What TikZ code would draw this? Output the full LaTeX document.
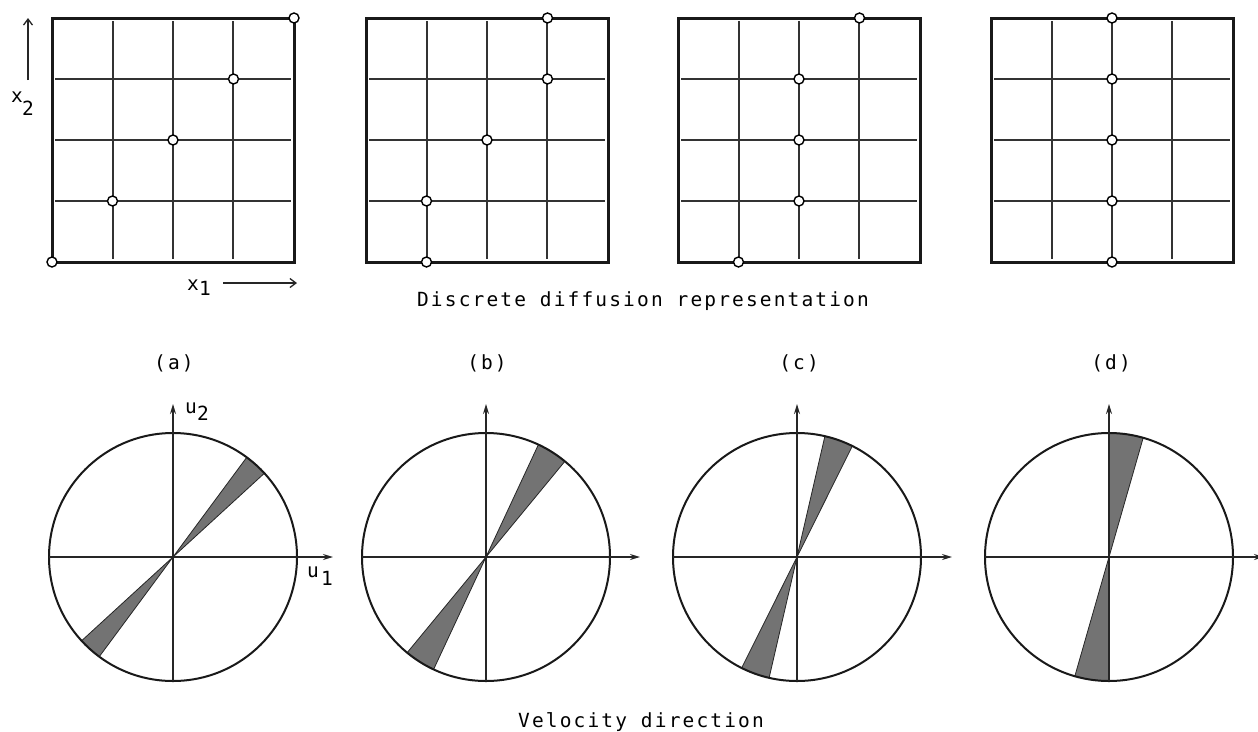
\documentclass[tikz,border=0pt]{standalone}
\usepackage{fontspec}
\newfontfamily\plotfont[LetterSpace=11]{DejaVu Sans Mono}
\newfontfamily\plotchar{DejaVu Sans Mono}
\usetikzlibrary{arrows.meta}
\tikzset{
  frame/.style={line width=3pt, draw=black!90},
  gridl/.style={line width=1.8pt, draw=black!80},
  site/.style={circle, draw=black, fill=white, line width=1.4pt, minimum size=10pt, inner sep=0pt},
  vcirc/.style={line width=2pt, draw=black!90},
  vaxis/.style={line width=1.4pt, draw=black!85, -{Stealth[length=10pt,width=6pt]}},
  wedgefill/.style={fill=black!55, draw=black!85, line width=0.8pt},
  lbl/.style={font=\plotfont\fontsize{19.5}{20}\selectfont, inner sep=0pt, text=black},
  chr/.style={font=\plotchar\fontsize{19.5}{20}\selectfont, inner sep=0pt, text=black},
  xarrow/.style={line width=1.3pt, draw=black!85, -{Straight Barb[length=6pt,width=9pt]}}
}
% #1 left edge, #2 name, #3 list col/row of sites
\newcommand\diffgrid[3]{%
  \begin{scope}[shift={(#1,18)}]
    \foreach \k/\xx/\yy in {1/61/61,2/121/122,3/181/183} {
      \draw[gridl] (\xx,3) -- (\xx,241);
      \draw[gridl] (3,\yy) -- (239,\yy);
    }
    \draw[frame] (0,0) rectangle (242,244);
    \foreach \c/\r in {#3} \node[site] (#2\r) at (\c*60.5,244-\r*61) {};
  \end{scope}
}
% #1 centre x, #2 name, #3 angle1, #4 angle2, #5 end of u1 arrow
\newcommand\velcirc[5]{%
  \coordinate (#2o) at (#1,557);
  \coordinate (#2l) at (#1-124,557);
  \coordinate (#2r) at (#5,557);
  \coordinate (#2b) at (#1,681);
  \coordinate (#2t) at (#1,404);
  \filldraw[wedgefill] (#2o) -- ++(-#3:124) arc[start angle=-#3, end angle=-#4, radius=124] -- cycle;
  \filldraw[wedgefill] (#2o) -- ++(-#3-180:124) arc[start angle=-#3-180, end angle=-#4-180, radius=124] -- cycle;
  \draw[vcirc] (#2o) circle[radius=124];
  \draw[vaxis] (#2l) -- (#2r);
  \draw[vaxis] (#2b) -- (#2t);
}
\begin{document}
\begin{tikzpicture}[x=1pt,y=-1pt]
  \useasboundingbox (0,0) rectangle (1258,731);
  \fill[white] (0,0) rectangle (1258,731);

  % discrete diffusion grids
  \diffgrid{52}{a}{0/0,1/1,2/2,3/3,4/4}
  \diffgrid{366}{b}{1/0,1/1,2/2,3/3,3/4}
  \diffgrid{678}{c}{1/0,2/1,2/2,2/3,3/4}
  \diffgrid{991}{d}{2/0,2/1,2/2,2/3,2/4}

  % x axes of the first grid
  \coordinate (x2s) at (28,80);
  \coordinate (x2e) at (28,18);
  \draw[xarrow] (x2s) -- (x2e);
  \coordinate (x1s) at (223,283);
  \coordinate (x1e) at (297,283);
  \draw[xarrow] (x1s) -- (x1e);
  \node[chr, anchor=base] (x2x) at (17,102) {x};
  \node[chr, anchor=base] (x2n) at (28,115) {2};
  \node[chr, anchor=base] (x1x) at (193,290) {x};
  \node[chr, anchor=base] (x1n) at (205,295) {1};

  \node[lbl, anchor=base] (title1) at (643,306) {Discrete diffusion representation};

  \node[lbl] (la) at (174,363) {(a)};
  \node[lbl] (lb) at (487,363) {(b)};
  \node[lbl] (lc) at (799,363) {(c)};
  \node[lbl] (ld) at (1111,363) {(d)};

  % velocity direction circles
  \velcirc{173}{A}{42.5}{53.5}{333}
  \velcirc{486}{B}{50.5}{65}{640}
  \velcirc{797}{C}{63.5}{77}{952}
  \velcirc{1109}{D}{74}{90}{1264}

  \node[chr, anchor=base] (u2u) at (191,413) {u};
  \node[chr, anchor=base] (u2n) at (203,420) {2};
  \node[chr, anchor=base] (u1u) at (313,577) {u};
  \node[chr, anchor=base] (u1n) at (327,585) {1};

  \node[lbl, anchor=base] (title2) at (641,727) {Velocity direction};
\end{tikzpicture}
\end{document}
